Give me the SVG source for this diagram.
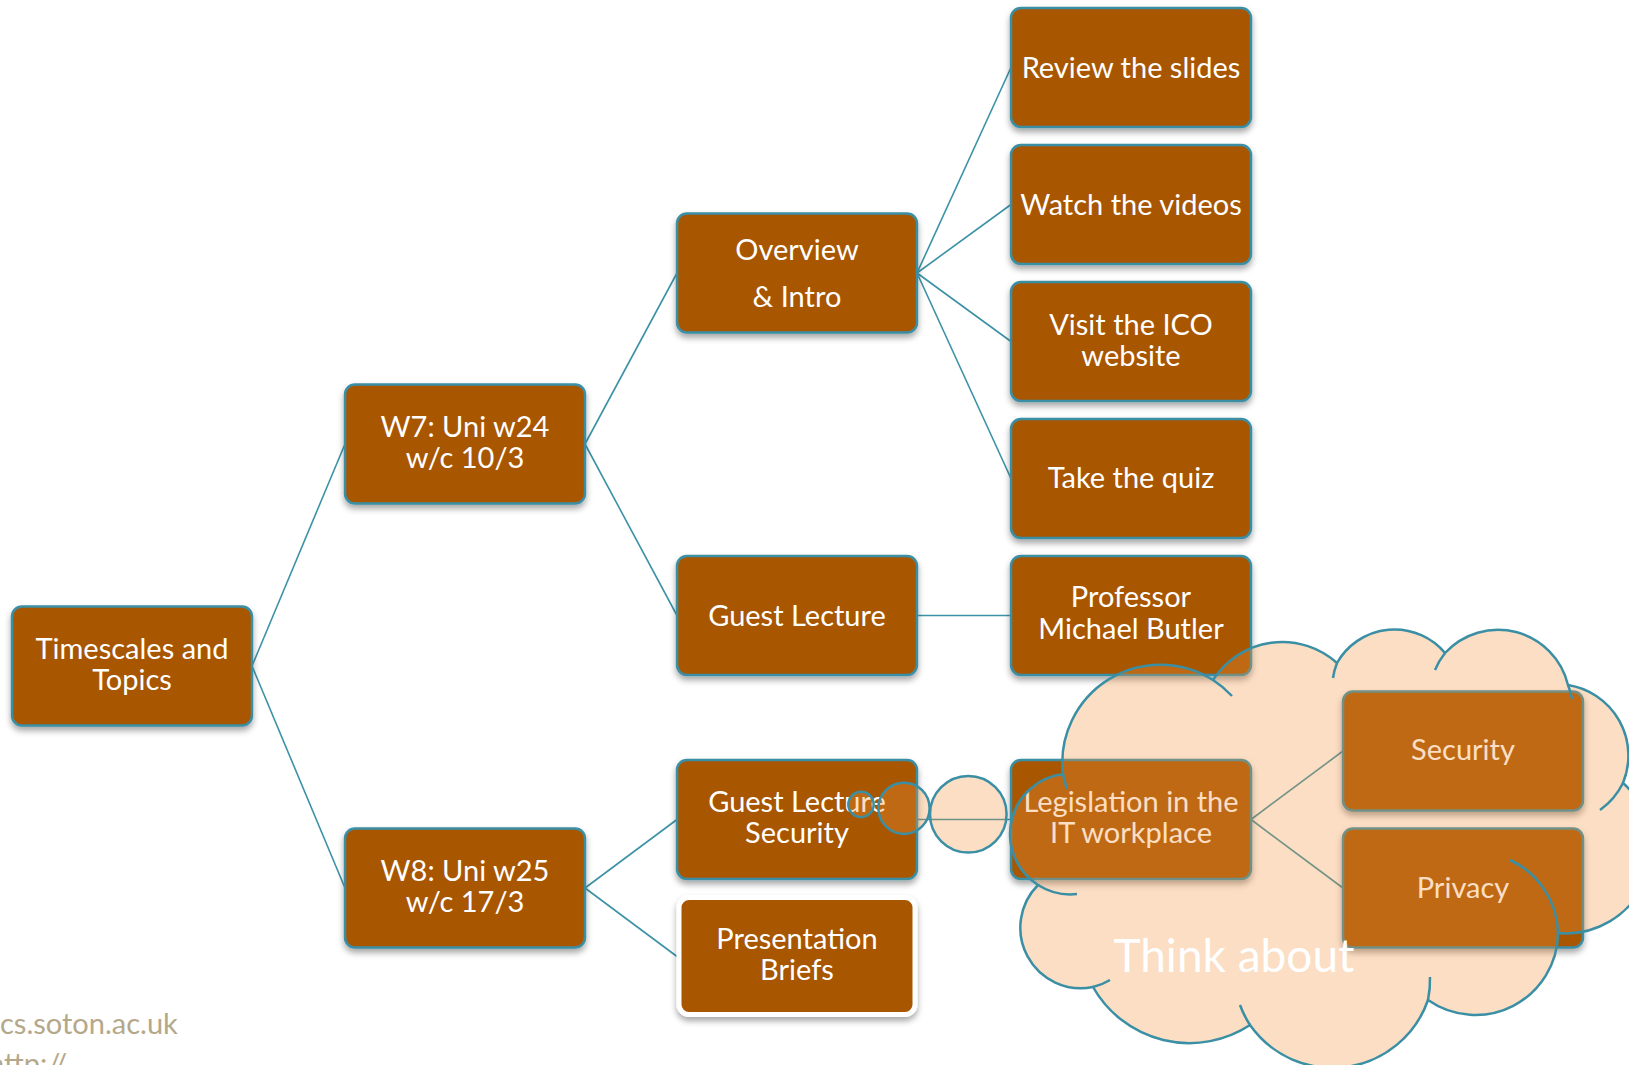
<svg xmlns="http://www.w3.org/2000/svg" width="1629" height="1065" viewBox="0 0 1629 1065">
<defs>
<filter id="sh" x="-10%" y="-10%" width="120%" height="130%">
<feDropShadow dx="0" dy="4" stdDeviation="3" flood-color="#000" flood-opacity="0.35"/>
</filter>
<style>
.box{fill:#A85600;stroke:#3B8FA5;stroke-width:2.5;filter:url(#sh)}
.boxw{fill:#A85600;stroke:#FFFFFF;stroke-width:5;filter:url(#sh)}
.t{font-family:Lato,"Open Sans",sans-serif;font-size:29px;fill:#FFFFFF;text-anchor:middle}
.con{stroke:#3B92A6;stroke-width:1.6;fill:none}
.cloud{fill:#F29441;fill-opacity:0.31;stroke:none}
.cl{fill:none;stroke:#3B8FA5;stroke-width:2.5}
.bub{fill:#F29441;fill-opacity:0.31;stroke:#3B8FA5;stroke-width:2.5}
.foot{font-family:Lato,"Open Sans",sans-serif;font-size:29px;fill:#B5A88A}
</style>
</defs>
<rect width="1629" height="1065" fill="#FFFFFF"/>
<g id="connectors">
<line class="con" x1="252" y1="666" x2="345" y2="444"/>
<line class="con" x1="252" y1="666" x2="345" y2="888"/>
<line class="con" x1="585" y1="444" x2="677" y2="273"/>
<line class="con" x1="585" y1="444" x2="677" y2="615.5"/>
<line class="con" x1="917" y1="273" x2="1011" y2="67.5"/>
<line class="con" x1="917" y1="273" x2="1011" y2="204.5"/>
<line class="con" x1="917" y1="273" x2="1011" y2="341.5"/>
<line class="con" x1="917" y1="273" x2="1011" y2="478.5"/>
<line class="con" x1="917" y1="615.5" x2="1011" y2="615.5"/>
<line class="con" x1="585" y1="888" x2="677" y2="819.5"/>
<line class="con" x1="585" y1="888" x2="677" y2="956.5"/>
<line class="con" x1="917" y1="819.5" x2="1011" y2="819.5"/>
<line class="con" x1="1251" y1="819.5" x2="1343" y2="751"/>
<line class="con" x1="1251" y1="819.5" x2="1343" y2="888"/>
</g>
<g id="n-timescales"><rect class="box" x="12" y="606.5" width="240" height="119" rx="10"/><text class="t" x="132" y="659">Timescales and</text><text class="t" x="132" y="690">Topics</text></g>
<g id="n-w7"><rect class="box" x="345" y="384.5" width="240" height="119" rx="10"/><text class="t" x="465" y="437">W7: Uni w24</text><text class="t" x="465" y="468">w/c 10/3</text></g>
<g id="n-w8"><rect class="box" x="345" y="828.5" width="240" height="119" rx="10"/><text class="t" x="465" y="881">W8: Uni w25</text><text class="t" x="465" y="912">w/c 17/3</text></g>
<g id="n-overview"><rect class="box" x="677" y="213.5" width="240" height="119" rx="10"/><text class="t" x="797" y="260">Overview</text><text class="t" x="797" y="307">&amp; Intro</text></g>
<g id="n-guest"><rect class="box" x="677" y="556" width="240" height="119" rx="10"/><text class="t" x="797" y="625.5">Guest Lecture</text></g>
<g id="n-guestsec"><rect class="box" x="677" y="760" width="240" height="119" rx="10"/><text class="t" x="797" y="811.5">Guest Lecture</text><text class="t" x="797" y="843">Security</text></g>
<g id="n-present"><rect class="boxw" x="679" y="897.5" width="236" height="117" rx="10"/><text class="t" x="797" y="948.5">Presentation</text><text class="t" x="797" y="980">Briefs</text></g>
<g id="n-review"><rect class="box" x="1011" y="8" width="240" height="119" rx="10"/><text class="t" x="1131" y="78">Review the slides</text></g>
<g id="n-watch"><rect class="box" x="1011" y="145" width="240" height="119" rx="10"/><text class="t" x="1131" y="215">Watch the videos</text></g>
<g id="n-visit"><rect class="box" x="1011" y="282" width="240" height="119" rx="10"/><text class="t" x="1131" y="335">Visit the ICO</text><text class="t" x="1131" y="366">website</text></g>
<g id="n-quiz"><rect class="box" x="1011" y="419" width="240" height="119" rx="10"/><text class="t" x="1131" y="488">Take the quiz</text></g>
<g id="n-prof"><rect class="box" x="1011" y="556" width="240" height="119" rx="10"/><text class="t" x="1131" y="607">Professor</text><text class="t" x="1131" y="639">Michael Butler</text></g>
<g id="n-legis"><rect class="box" x="1011" y="760" width="240" height="119" rx="10"/><text class="t" x="1131" y="811.5">Legislation in the</text><text class="t" x="1131" y="843">IT workplace</text></g>
<g id="n-security"><rect class="box" x="1343" y="691.5" width="240" height="119" rx="10"/><text class="t" x="1463" y="760">Security</text></g>
<g id="n-privacy"><rect class="box" x="1343" y="828.5" width="240" height="119" rx="10"/><text class="t" x="1463" y="898">Privacy</text></g>
<g id="cloud">
<path class="cloud" d="M 1038 885 A 60.5 60.5 0 0 1 1063 774 A 98 98 0 0 1 1213 680 A 82 82 0 0 1 1337 663 A 66 66 0 0 1 1445 653 A 72 72 0 0 1 1568 685 A 71.6 71.6 0 0 1 1623 783 A 86 86 0 0 1 1558 933 A 82.6 82.6 0 0 1 1428 1000 A 101 101 0 0 1 1250 1025 A 110.7 110.7 0 0 1 1093 987 A 60.5 60.5 0 0 1 1038 885 Z"/>
<path class="cl" d="M 1038 885 A 60.5 60.5 0 0 1 1063 774 A 98 98 0 0 1 1213 680 A 82 82 0 0 1 1337 663 A 66 66 0 0 1 1445 653 A 72 72 0 0 1 1568 685 A 71.6 71.6 0 0 1 1623 783 A 86 86 0 0 1 1558 933 A 82.6 82.6 0 0 1 1428 1000 A 101 101 0 0 1 1250 1025 A 110.7 110.7 0 0 1 1093 987 A 60.5 60.5 0 0 1 1038 885 Z"/>
<path class="cl" d="M 1077 894 A 60.5 60.5 0 0 1 1038 885"/>
<path class="cl" d="M 1067 789 A 98 98 0 0 1 1063 774"/>
<path class="cl" d="M 1213 680 A 98 98 0 0 1 1232 696"/>
<path class="cl" d="M 1333 678 A 66 66 0 0 1 1337 663"/>
<path class="cl" d="M 1435 670 A 72 72 0 0 1 1445 653"/>
<path class="cl" d="M 1568 685 A 72 72 0 0 1 1572 699"/>
<path class="cl" d="M 1623 783 A 71.6 71.6 0 0 1 1600 810"/>
<path class="cl" d="M 1510 860 A 82.6 82.6 0 0 1 1558 933"/>
<path class="cl" d="M 1430 977 A 101 101 0 0 1 1428 1000"/>
<path class="cl" d="M 1250 1025 A 101 101 0 0 1 1240 1005"/>
<path class="cl" d="M 1110 980 A 60.5 60.5 0 0 1 1093 987"/>
<circle class="bub" cx="861" cy="804.5" r="12.7"/>
<circle class="bub" cx="904" cy="808.3" r="25.6"/>
<circle class="bub" cx="968.3" cy="814.3" r="38.3"/>
<text x="1234" y="972" font-family="Lato,'Open Sans',sans-serif" font-size="46" fill="#FFFFFF" text-anchor="middle">Think about</text>
</g>
<g id="footer">
<text class="foot" x="0" y="1034">cs.soton.ac.uk</text>
<text class="foot" x="-12" y="1074">http://</text>
</g>
</svg>
